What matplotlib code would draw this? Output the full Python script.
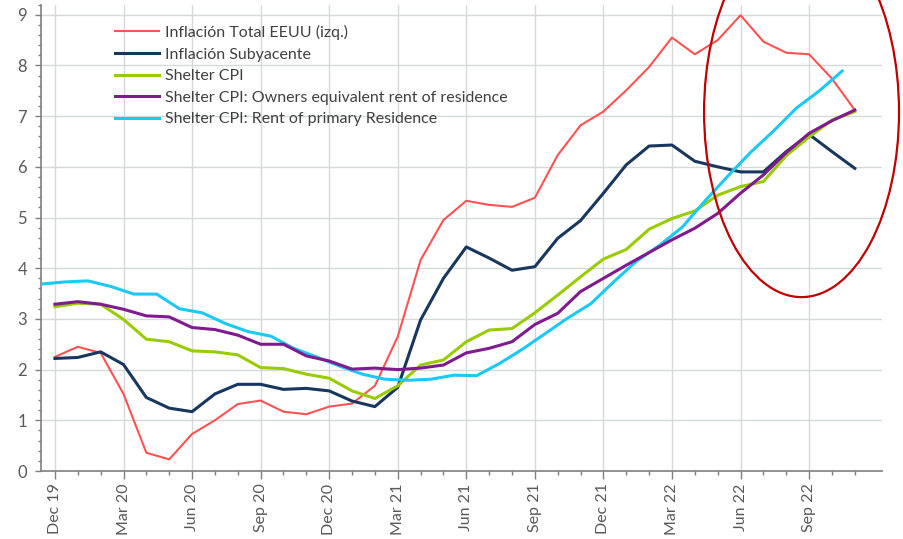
import matplotlib
matplotlib.use("Agg")
import matplotlib.pyplot as plt
from matplotlib.patches import Ellipse
from matplotlib.ticker import MultipleLocator, FixedLocator
import numpy as np

# ---------------- data ----------------
months = ["Dec 19", "Jan 20", "Feb 20", "Mar 20", "Apr 20", "May 20", "Jun 20", "Jul 20",
          "Aug 20", "Sep 20", "Oct 20", "Nov 20", "Dec 20", "Jan 21", "Feb 21", "Mar 21",
          "Apr 21", "May 21", "Jun 21", "Jul 21", "Aug 21", "Sep 21", "Oct 21", "Nov 21",
          "Dec 21", "Jan 22", "Feb 22", "Mar 22", "Apr 22", "May 22", "Jun 22", "Jul 22",
          "Aug 22", "Sep 22", "Oct 22", "Nov 22"]

inflacion_total = [2.25, 2.45, 2.33, 1.52, 0.36, 0.23, 0.73, 1.00, 1.32, 1.39, 1.17, 1.12,
                   1.27, 1.33, 1.68, 2.65, 4.16, 4.95, 5.33, 5.25, 5.21, 5.39, 6.23, 6.82,
                   7.09, 7.51, 7.97, 8.55, 8.22, 8.50, 8.99, 8.47, 8.25, 8.22, 7.74, 7.12]

inflacion_subyacente = [2.22, 2.24, 2.35, 2.10, 1.45, 1.24, 1.17, 1.52, 1.71, 1.71, 1.61, 1.63,
                        1.58, 1.38, 1.27, 1.65, 2.98, 3.80, 4.42, 4.20, 3.96, 4.03, 4.59, 4.94,
                        5.48, 6.04, 6.41, 6.43, 6.11, 6.00, 5.90, 5.90, 6.30, 6.64, 6.30, 5.97]

shelter_cpi = [3.24, 3.31, 3.29, 2.99, 2.60, 2.55, 2.37, 2.35, 2.29, 2.04, 2.02, 1.91,
               1.83, 1.58, 1.43, 1.68, 2.09, 2.19, 2.55, 2.78, 2.81, 3.12, 3.47, 3.83,
               4.18, 4.37, 4.77, 4.98, 5.13, 5.44, 5.61, 5.71, 6.22, 6.59, 6.92, 7.09]

owners_equiv_rent = [3.29, 3.34, 3.29, 3.19, 3.06, 3.04, 2.83, 2.79, 2.68, 2.50, 2.50, 2.27,
                     2.17, 2.01, 2.03, 2.00, 2.03, 2.09, 2.33, 2.42, 2.55, 2.89, 3.11, 3.54,
                     3.80, 4.06, 4.31, 4.56, 4.79, 5.08, 5.48, 5.84, 6.28, 6.66, 6.91, 7.12]

rent_primary = [3.69, 3.73, 3.75, 3.64, 3.49, 3.49, 3.20, 3.12, 2.91, 2.75, 2.66, 2.42,
                2.25, 2.07, 1.91, 1.81, 1.79, 1.81, 1.89, 1.88, 2.12, 2.40, 2.71, 3.02,
                3.30, 3.73, 4.14, 4.45, 4.81, 5.33, 5.82, 6.29, 6.71, 7.16, 7.50, 7.89]

labels = ["Inflación Total EEUU (izq.)", "Inflación Subyacente", "Shelter CPI",
          "Shelter CPI: Owners equivalent rent of residence",
          "Shelter CPI: Rent of primary Residence"]

# ---------------- figure ----------------
plt.rcParams["font.family"] = ["Lato", "DejaVu Sans"]
fig = plt.figure(figsize=(9.04, 5.39), dpi=100)
W, H = 904, 539
ax_left, ax_right, ax_top, ax_bottom = 41, 882, 4.6, 471
ax = fig.add_axes([ax_left / W, 1 - ax_bottom / H, (ax_right - ax_left) / W, (ax_bottom - ax_top) / H])

x = np.arange(len(months))
cyan_shift = -0.55

ax.plot(x, inflacion_total, color="#FF5252", lw=1.5, label=labels[0], zorder=3)
ax.plot(x, inflacion_subyacente, color="#17375E", lw=2.2, label=labels[1], zorder=3)
ax.plot(x, shelter_cpi, color="#99CC00", lw=2.2, label=labels[2], zorder=3)
ax.plot(x, owners_equiv_rent, color="#7F1A8F", lw=2.2, label=labels[3], zorder=4)
ax.plot(x + cyan_shift, rent_primary, color="#1CC8F5", lw=2.2, label=labels[4], zorder=3)

ax.set_xlim(-0.61, 36.19)
ax.set_ylim(0, 9.2)

major_idx = list(range(0, len(months), 3))
ax.xaxis.set_major_locator(FixedLocator(major_idx))
ax.set_xticklabels([months[i] for i in major_idx], rotation=90)
ax.xaxis.set_minor_locator(FixedLocator(list(range(len(months)))))
ax.yaxis.set_major_locator(FixedLocator(list(range(0, 10))))
ax.yaxis.set_minor_locator(MultipleLocator(0.2))

ax.grid(True, which="major", color="#D5D9DB", lw=1.0, zorder=0)
ax.set_axisbelow(True)

for s in ["top", "right"]:
    ax.spines[s].set_visible(False)
for s in ["left", "bottom"]:
    ax.spines[s].set_color("#7F7F7F")
    ax.spines[s].set_linewidth(1.2)

ax.tick_params(axis="x", which="major", length=6, width=1, color="#7F7F7F",
               labelsize=11.5, labelcolor="#595959", pad=3)
ax.tick_params(axis="x", which="minor", length=3, width=1, color="#7F7F7F")
ax.tick_params(axis="y", which="major", length=4, width=1, color="#7F7F7F",
               labelsize=12, labelcolor="#595959", pad=6)
ax.tick_params(axis="y", which="minor", length=2, width=1, color="#7F7F7F")

leg = ax.legend(loc="upper left", bbox_to_anchor=(115 / W, 1 - 25 / H),
                bbox_transform=fig.transFigure, frameon=False, fontsize=11.5,
                handlelength=2.75, handletextpad=0.35, labelspacing=0.46, borderpad=0,
                borderaxespad=0)
for t in leg.get_texts():
    t.set_color("#404040")

ell = Ellipse((32.67, 7.08), width=8.53, height=7.3, fill=False, edgecolor="#C00000",
              lw=1.6, transform=ax.transData, clip_on=False, zorder=5)
ax.add_patch(ell)

fig.savefig("out.png", dpi=100)
